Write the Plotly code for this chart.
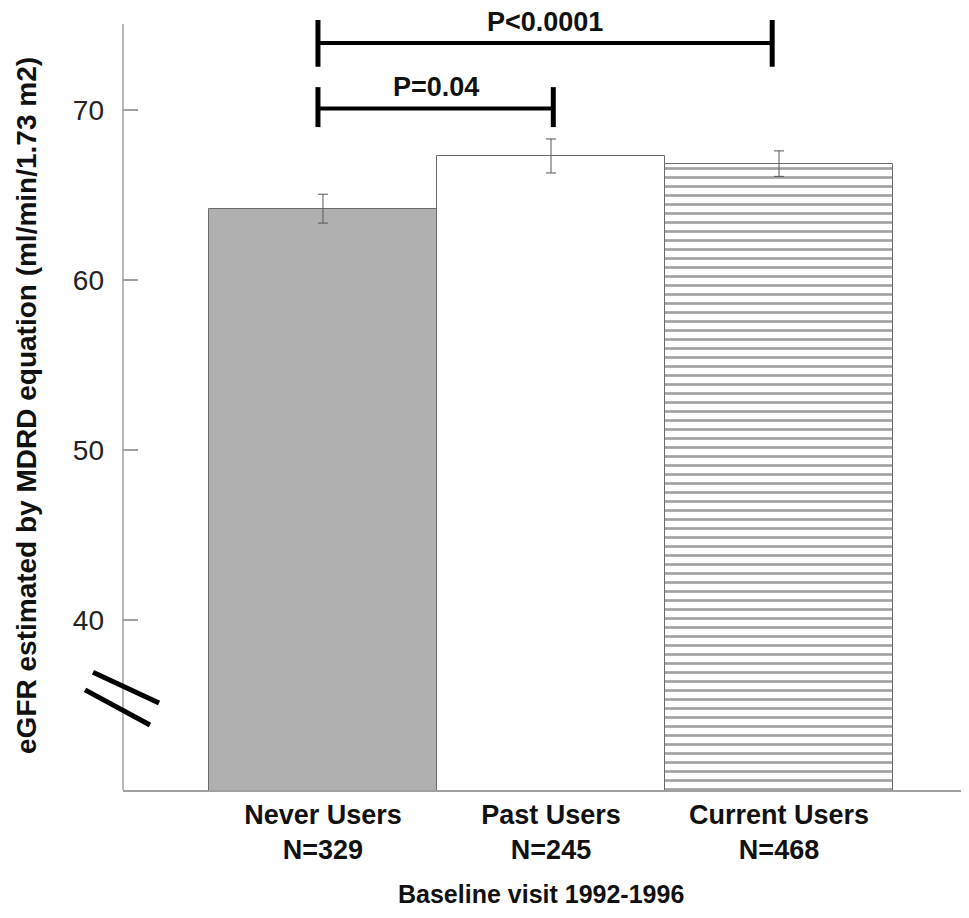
import plotly.graph_objects as go

# ---- data ----
categories = ["Never Users", "Past Users", "Current Users"]
n_labels = ["N=329", "N=245", "N=468"]
egfr_means = [64.2, 67.3, 66.85]
egfr_err = [0.85, 1.0, 0.75]
bar_fills = ["#b0b0b0", "#ffffff", "#ffffff"]
bar_patterns = ["", "", "-"]
y_ticks = [40, 50, 60, 70]
comparisons = [(0, 2, "P<0.0001", 73.95, 72.55, 75.3), (0, 1, "P=0.04", 70.1, 69.0, 71.35)]

x_pos = list(range(len(categories)))
tick_text = [f"<b>{c}</b><br><b>{n}</b>" for c, n in zip(categories, n_labels)]
end_nudge = [-0.022, 0.01, -0.03]

fig = go.Figure()
fig.add_trace(go.Bar(
    x=x_pos, y=egfr_means, width=1.0,
    marker=dict(color=bar_fills, line=dict(color="#6a6a6a", width=1),
                pattern=dict(shape=bar_patterns, size=9, solidity=0.3,
                             fgcolor="#111111", bgcolor="#ffffff", fillmode="overlay")),
    error_y=dict(type="data", array=egfr_err, color="#555555", thickness=1, width=5),
    showlegend=False,
))

shapes = []
shapes.append(dict(type="line", xref="paper", yref="y", x0=0, x1=0, y0=30, y1=75.06,
                   line=dict(color="#a0a0a0", width=1.5)))
annotations = []
for a, b, label, yh, ylo, yhi in comparisons:
    xa, xb = a + end_nudge[a], b + end_nudge[b]
    shapes.append(dict(type="line", xref="x", yref="y", x0=xa, x1=xb, y0=yh, y1=yh,
                       line=dict(color="black", width=4)))
    for xe in (xa, xb):
        shapes.append(dict(type="line", xref="x", yref="y", x0=xe, x1=xe, y0=ylo, y1=yhi,
                           line=dict(color="black", width=5)))
    annotations.append(dict(x=(xa + xb) / 2, y=yh, xref="x", yref="y", text=f"<b>{label}</b>",
                            showarrow=False, yanchor="bottom", yshift=4,
                            font=dict(family="Liberation Sans, Arial", size=27, color="#111")))
for x0, y0, x1, y1 in [(-0.0358, 0.153, 0.043, 0.113), (-0.0453, 0.130, 0.0322, 0.0844)]:
    shapes.append(dict(type="line", xref="paper", yref="paper", x0=x0, y0=y0, x1=x1, y1=y1,
                       line=dict(color="black", width=5)))

annotations.append(dict(x=-0.1158, y=0.5, xref="paper", yref="paper",
                        text="<b>eGFR estimated by MDRD equation (ml/min/1.73 m2)</b>",
                        textangle=-90, showarrow=False, xanchor="center", yanchor="middle",
                        font=dict(family="Liberation Sans, Arial", size=28, color="#111")))
annotations.append(dict(x=0.4994, y=-0.1351, xref="paper", yref="paper",
                        text="<b>Baseline visit 1992-1996</b>", showarrow=False,
                        xanchor="center", yanchor="middle",
                        font=dict(family="Liberation Sans, Arial", size=25, color="#111")))

fig.update_layout(
    width=953, height=902,
    margin=dict(l=115, r=0, t=12, b=120),
    paper_bgcolor="white", plot_bgcolor="white",
    bargap=0,
    shapes=shapes, annotations=annotations,
    font=dict(family="Liberation Sans, Arial", color="#111"),
    xaxis=dict(range=[-0.877, 2.798], tickvals=x_pos, ticktext=tick_text,
               showline=True, linecolor="#a0a0a0", linewidth=1.5, ticks="", showgrid=False,
               zeroline=False, tickfont=dict(size=27, color="#111")),
    yaxis=dict(range=[30, 75.3], tickvals=y_ticks, showline=False, ticks="inside",
               ticklen=15, tickwidth=1.5, tickcolor="#a0a0a0", showgrid=False, zeroline=False,
               ticklabelstandoff=18, tickfont=dict(size=28, color="#222")),
)

fig.write_html("out.html")
